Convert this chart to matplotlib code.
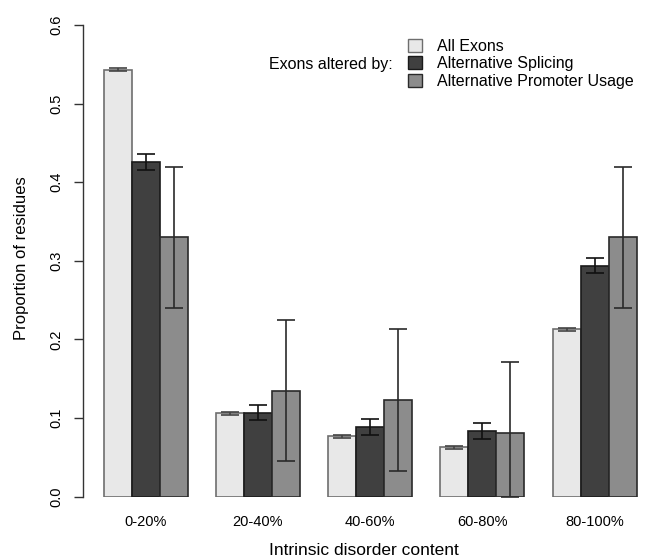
import numpy as np
import matplotlib
matplotlib.use('Agg')
import matplotlib.pyplot as plt
from matplotlib.patches import Patch

plt.rcParams['font.family'] = ['Liberation Sans', 'DejaVu Sans']

# data
groups = ["0-20%", "20-40%", "40-60%", "60-80%", "80-100%"]
series = ["All Exons", "Alternative Splicing", "Alternative Promoter Usage"]
all_exons = [0.543, 0.106, 0.077, 0.063, 0.213]
alt_splicing = [0.426, 0.107, 0.089, 0.084, 0.294]
alt_promoter = [0.330, 0.135, 0.123, 0.081, 0.330]
err_all = [0.002, 0.002, 0.002, 0.002, 0.002]
err_splicing = [0.010, 0.010, 0.010, 0.010, 0.010]
err_promoter = [0.090, 0.090, 0.090, 0.090, 0.090]

colors = ['#e8e8e8', '#404040', '#8c8c8c']
edges = ['#6e6e6e', '#1a1a1a', '#2a2a2a']
errcol = ['#444444', '#111111', '#2a2a2a']

W, H = 651, 557
fig = plt.figure(figsize=(W / 100, H / 100), dpi=100)
x0_px, x1_px = 83, 645
y0_px, y1_px = 496.7, 25
ax = fig.add_axes([x0_px / W, (H - y0_px) / H, (x1_px - x0_px) / W, (y0_px - y1_px) / H])

# R-style barplot positions: width 1, one gap between groups
centers = np.arange(len(groups)) * 4 + 2.5
vals = [all_exons, alt_splicing, alt_promoter]
errs = [err_all, err_splicing, err_promoter]
for j in range(3):
    xs = centers + (j - 1)
    ax.bar(xs, vals[j], width=1.0, color=colors[j], edgecolor=edges[j], linewidth=1.2, zorder=2)
    v = np.array(vals[j])
    e = np.array(errs[j])
    lo = np.minimum(e, v)
    ax.errorbar(xs, v, yerr=[lo, e], fmt='none', ecolor=errcol[j], elinewidth=1.2,
                capsize=6.3, capthick=1.2, zorder=3)

ax.set_xlim(1 - 20.7 / 28.05, 20 + 8.3 / 28.05)
ax.set_ylim(0, 0.6)
for s in ['top', 'right', 'bottom']:
    ax.spines[s].set_visible(False)
ax.spines['left'].set_linewidth(1.0)
ax.spines['left'].set_color('#333333')
ax.set_yticks(np.arange(0, 0.61, 0.1))
ax.set_yticklabels(['%.1f' % t for t in np.arange(0, 0.61, 0.1)], rotation=90, va='center')
ax.tick_params(axis='y', length=6.8, width=1.0, color='#333333', labelsize=10.5, pad=7)
ax.set_xticks(centers)
ax.set_xticklabels(groups)
ax.tick_params(axis='x', length=0, labelsize=10.5, pad=13)

fig.text(22 / W, 1 - 258 / H, "Proportion of residues", rotation=90, ha='center', va='center',
         fontsize=12)
fig.text((x0_px + x1_px) / 2 / W, 1 - 555 / H, "Intrinsic disorder content",
         ha='center', va='baseline', fontsize=12.5)

handles = [Patch(facecolor=colors[j], edgecolor=edges[j], linewidth=1.0) for j in range(3)]
fig.legend(handles, series, loc='upper left', bbox_to_anchor=(408 / W, 1 - 39 / H),
           frameon=False, fontsize=11.5, handlelength=0.85, handleheight=0.85,
           handletextpad=0.95, labelspacing=0.15, borderpad=0, borderaxespad=0)
fig.text(393 / W, 1 - 64 / H, "Exons altered by:", ha='right', va='center', fontsize=11.5)

fig.savefig('out.png', dpi=100)
